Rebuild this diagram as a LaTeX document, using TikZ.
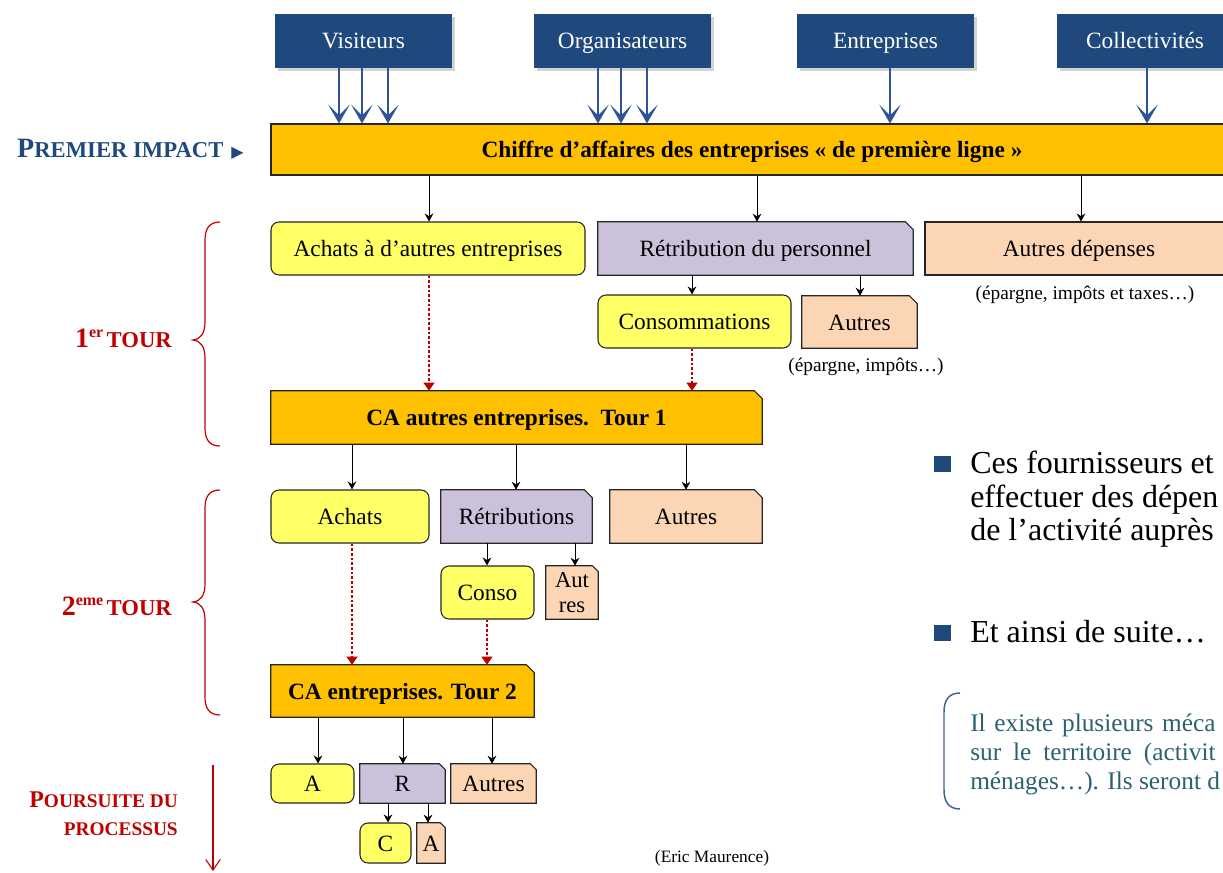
\documentclass[tikz,border=0pt]{standalone}
\usepackage{fontspec}
\setmainfont{Liberation Serif}
\newfontfamily\dejavu{DejaVu Sans}
\usetikzlibrary{arrows.meta,backgrounds,shadows}
\definecolor{bluebox}{HTML}{1F497D}
\definecolor{bluearrow}{HTML}{2F5496}
\definecolor{orangebox}{HTML}{FFC000}
\definecolor{yelbox}{HTML}{FFFF66}
\definecolor{lavbox}{HTML}{CCC1DA}
\definecolor{peachbox}{HTML}{FCD5B5}
\definecolor{redc}{HTML}{C00000}
\definecolor{tealtext}{HTML}{2B6271}
\definecolor{brackblue}{HTML}{40609A}
\newcommand\bigF{\fontsize{21}{24}\selectfont}
\newcommand\smF{\fontsize{17}{20}\selectfont}
\newcommand\bigP{\fontsize{18}{22}\selectfont}
\newcommand\smP{\fontsize{14.5}{18}\selectfont}
% box from pixel corners: style, x1, y1, x2, y2, name, text
\newcommand\boxat[7]{\node[#1, minimum width={(#4-#2)*0.75pt}, minimum height={(#5-#3)*0.75pt}]
  (#6) at ({(#2+#4)/2},{(#3+#5)/2}) {#7};}
\newcommand\snipit[3][8]{%
  \begin{scope}[on background layer]
    \draw[boxline, fill=#3] (#2.south west) -- (#2.north west)
      -- ([xshift=-#1*0.75pt]#2.north east) -- ([yshift=-#1*0.75pt]#2.north east)
      -- (#2.south east) -- cycle;
  \end{scope}}
\tikzset{
  boxline/.style={draw=black!85, line width=0.8pt},
  lblbase/.style={inner sep=0pt, font=\fontsize{17.5}{20}\selectfont, align=center},
  lbl/.style={lblbase, text height=15pt, text depth=3pt},
  topbox/.style={lbl, fill=bluebox, text=white,
    drop shadow={shadow xshift=2pt, shadow yshift=-2pt, opacity=0.35}},
  mainbox/.style={lbl, boxline, fill=orangebox, font=\fontsize{17.5}{20}\selectfont\bfseries},
  roundbox/.style={lbl, boxline, fill=yelbox, rounded corners=6pt},
  rectbox/.style={lbl, boxline},
  snipbox/.style={lbl},
  boldsnip/.style={lbl, font=\fontsize{17.5}{20}\selectfont\bfseries},
  barrow/.style={draw=bluearrow, line width=1.2pt, -{Stealth[length=14pt,width=16pt,inset=8pt]}},
  karrow/.style={draw=black, line width=0.7pt, -{Stealth[length=6pt,width=6.5pt,inset=2pt]}},
  rarrow/.style={draw=redc, line width=2pt, dash pattern=on 2pt off 1.5pt, -{Triangle[length=6pt,width=8pt]}},
  note/.style={inner sep=0pt, font=\fontsize{14.5}{17}\selectfont},
  bulletsq/.style={fill=bluebox, inner sep=0pt, minimum size=12.5pt},
  bodytext/.style={inner sep=0pt, anchor=base west, font=\fontsize{24}{25}\selectfont},
  tealline/.style={inner sep=0pt, anchor=base west, text=tealtext, font=\fontsize{19}{21}\selectfont},
}
\begin{document}
\begin{tikzpicture}[x=0.75pt,y=-0.75pt]
\useasboundingbox (0,0) rectangle (1223,873);

% top blue boxes
\boxat{topbox}{275}{14}{452}{68}{vis}{Visiteurs}
\boxat{topbox}{534}{14}{711}{68}{org}{Organisateurs}
\boxat{topbox}{797}{14}{974}{68}{ent}{Entreprises}
\boxat{topbox}{1057}{14}{1233}{68}{col}{Collectivités}

% main box
\boxat{mainbox}{271}{124}{1233}{175}{main}{Chiffre d’affaires des entreprises « de première ligne »}

% first round
\boxat{roundbox}{271}{222}{585}{275}{ach}{Achats à d’autres entreprises}
\boxat{snipbox}{598}{222}{913}{275}{ret}{Rétribution du personnel}
\snipit{ret}{lavbox}
\boxat{rectbox, fill=peachbox}{925}{222}{1233}{275}{adp}{Autres dépenses}
\node[note] (n1) at (1085,295) {(épargne, impôts et taxes…)};
\boxat{roundbox}{598}{295}{791}{348}{cons}{Consommations}
\boxat{snipbox}{802}{296}{917}{348}{au1}{Autres}
\snipit{au1}{peachbox}
\node[note] (n2) at (866,367) {(épargne, impôts…)};
\boxat{boldsnip}{271}{391}{762}{444}{ca1}{CA autres entreprises.\ \ Tour 1}
\snipit{ca1}{orangebox}

% second round
\boxat{roundbox}{271}{490}{429}{543}{ach2}{Achats}
\boxat{snipbox}{441}{490}{592}{543}{ret2}{Rétributions}
\snipit{ret2}{lavbox}
\boxat{snipbox}{610}{490}{762}{543}{au2}{Autres}
\snipit{au2}{peachbox}
\boxat{roundbox}{441}{566}{534}{619}{cons2}{Conso}
\boxat{lblbase, font=\fontsize{17}{18.5}\selectfont}{546}{566}{598}{619}{au3}{Aut\\res}
\snipit[6]{au3}{peachbox}
\boxat{boldsnip}{271}{665}{534}{717}{ca2}{CA entreprises. Tour 2}
\snipit{ca2}{orangebox}

% continuation
\boxat{roundbox}{271}{764}{354}{803}{a3}{A}
\boxat{snipbox}{360}{764}{445}{803}{r3}{R}
\snipit[6]{r3}{lavbox}
\boxat{snipbox}{451}{764}{536}{803}{au4}{Autres}
\snipit[6]{au4}{peachbox}
\boxat{roundbox}{360}{823}{411}{863}{c3}{C}
\boxat{snipbox}{417}{823}{445}{863}{a4}{A}
\snipit[5]{a4}{peachbox}

% x positions of connectors
\coordinate (v1) at (339,0); \coordinate (v2) at (362,0); \coordinate (v3) at (388,0);
\coordinate (o1) at (598,0); \coordinate (o2) at (621,0); \coordinate (o3) at (647,0);
\coordinate (e1) at (890,0); \coordinate (c1) at (1147,0);
\coordinate (k1) at (429,0); \coordinate (k2) at (757,0); \coordinate (k3) at (1081,0);
\coordinate (k4) at (692,0); \coordinate (k5) at (860,0);
\coordinate (k6) at (352,0); \coordinate (k7) at (516,0); \coordinate (k8) at (686,0);
\coordinate (k9) at (487,0); \coordinate (k10) at (575,0);
\coordinate (k12) at (318,0); \coordinate (k13) at (403,0); \coordinate (k14) at (492,0);
\coordinate (k15) at (388,0); \coordinate (k16) at (428,0);

% blue arrows
\draw[barrow] (vis.south -| v1) -- (main.north -| v1);
\draw[barrow] (vis.south -| v2) -- (main.north -| v2);
\draw[barrow] (vis.south -| v3) -- (main.north -| v3);
\draw[barrow] (org.south -| o1) -- (main.north -| o1);
\draw[barrow] (org.south -| o2) -- (main.north -| o2);
\draw[barrow] (org.south -| o3) -- (main.north -| o3);
\draw[barrow] (ent.south -| e1) -- (main.north -| e1);
\draw[barrow] (col.south -| c1) -- (main.north -| c1);

% black arrows
\draw[karrow] (main.south -| k1) -- (ach.north -| k1);
\draw[karrow] (main.south -| k2) -- (ret.north -| k2);
\draw[karrow] (main.south -| k3) -- (adp.north -| k3);
\draw[karrow] (ret.south -| k4) -- (cons.north -| k4);
\draw[karrow] (ret.south -| k5) -- (au1.north -| k5);
\draw[karrow] (ca1.south -| k6) -- (ach2.north -| k6);
\draw[karrow] (ca1.south -| k7) -- (ret2.north -| k7);
\draw[karrow] (ca1.south -| k8) -- (au2.north -| k8);
\draw[karrow] (ret2.south -| k9) -- (cons2.north -| k9);
\draw[karrow] (ret2.south -| k10) -- (au3.north -| k10);
\draw[karrow] (ca2.south -| k12) -- (a3.north -| k12);
\draw[karrow] (ca2.south -| k13) -- (r3.north -| k13);
\draw[karrow] (ca2.south -| k14) -- (au4.north -| k14);
\draw[karrow] (r3.south -| k15) -- (c3.north -| k15);
\draw[karrow] (r3.south -| k16) -- (a4.north -| k16);

% red dotted arrows
\draw[rarrow] (ach.south -| k1) -- (ca1.north -| k1);
\draw[rarrow] (cons.south -| k4) -- (ca1.north -| k4);
\draw[rarrow] (ach2.south -| k6) -- (ca2.north -| k6);
\draw[rarrow] (cons2.south -| k9) -- (ca2.north -| k9);

% left labels
\node[anchor=base east, text=bluebox, font=\bfseries, inner sep=0pt] (premier) at (244,158)
  {{\bigF P}{\smF REMIER IMPACT}\hspace{6pt}{\dejavu\fontsize{12}{14}\selectfont ▶}};
\node[anchor=base east, text=redc, font=\bfseries, inner sep=0pt] (tour1) at (172,348)
  {{\bigF 1}\raisebox{7.5pt}{\fontsize{12}{14}\selectfont er} {\smF TOUR}};
\node[anchor=base east, text=redc, font=\bfseries, inner sep=0pt] (tour2) at (172,615)
  {{\bigF 2}\raisebox{7.5pt}{\fontsize{12}{14}\selectfont eme} {\smF TOUR}};
\node[anchor=base east, text=redc, font=\bfseries, inner sep=0pt] (pours1) at (178,807)
  {{\bigP P}{\smP OURSUITE DU}};
\node[anchor=base east, text=redc, font=\bfseries, inner sep=0pt] (pours2) at (178,835)
  {{\smP PROCESSUS}};

% braces
\draw[redc, line width=0.9pt] (220,222) .. controls (209,222) and (205,229) .. (205,240)
  -- (205,322) .. controls (205,333) and (201,339) .. (193,340)
  .. controls (201,341) and (205,347) .. (205,358)
  -- (205,428) .. controls (205,439) and (209,446) .. (220,446);
\draw[redc, line width=0.9pt] (220,490) .. controls (209,490) and (205,497) .. (205,508)
  -- (205,584) .. controls (205,595) and (201,601) .. (193,602)
  .. controls (201,603) and (205,609) .. (205,620)
  -- (205,697) .. controls (205,708) and (209,715) .. (220,715);

% down arrow
\coordinate (pd1) at (213,765);
\coordinate (pd2) at (213,871);
\draw[draw=redc, line width=0.8pt, -{Straight Barb[length=8pt,width=11pt]}] (pd1) -- (pd2);

% right text
\node[bulletsq] (bul1) at (942.5,464) {};
\node[bodytext] (t1) at (970,473) {Ces fournisseurs et};
\node[bodytext] (t2) at (970,507) {effectuer des dépen};
\node[bodytext] (t3) at (970,540) {de l’activité auprès};
\node[bulletsq] (bul2) at (942.5,633) {};
\node[bodytext] (t4) at (970,642) {Et ainsi de suite…};

\draw[brackblue, line width=1.1pt] (960,693) .. controls (949,693) and (944,700) .. (944,712)
  -- (944,790) .. controls (944,802) and (949,809) .. (960,809);
\node[tealline] (m1) at (970,731) {\makebox[184pt][s]{Il existe plusieurs méca}};
\node[tealline] (m2) at (970,760) {\makebox[184pt][s]{sur le territoire (activit}};
\node[tealline] (m3) at (970,789) {ménages…). Ils seront d};

\node[inner sep=0pt, font=\fontsize{13}{15}\selectfont] (author) at (712,858) {(Eric Maurence)};
\end{tikzpicture}
\end{document}
